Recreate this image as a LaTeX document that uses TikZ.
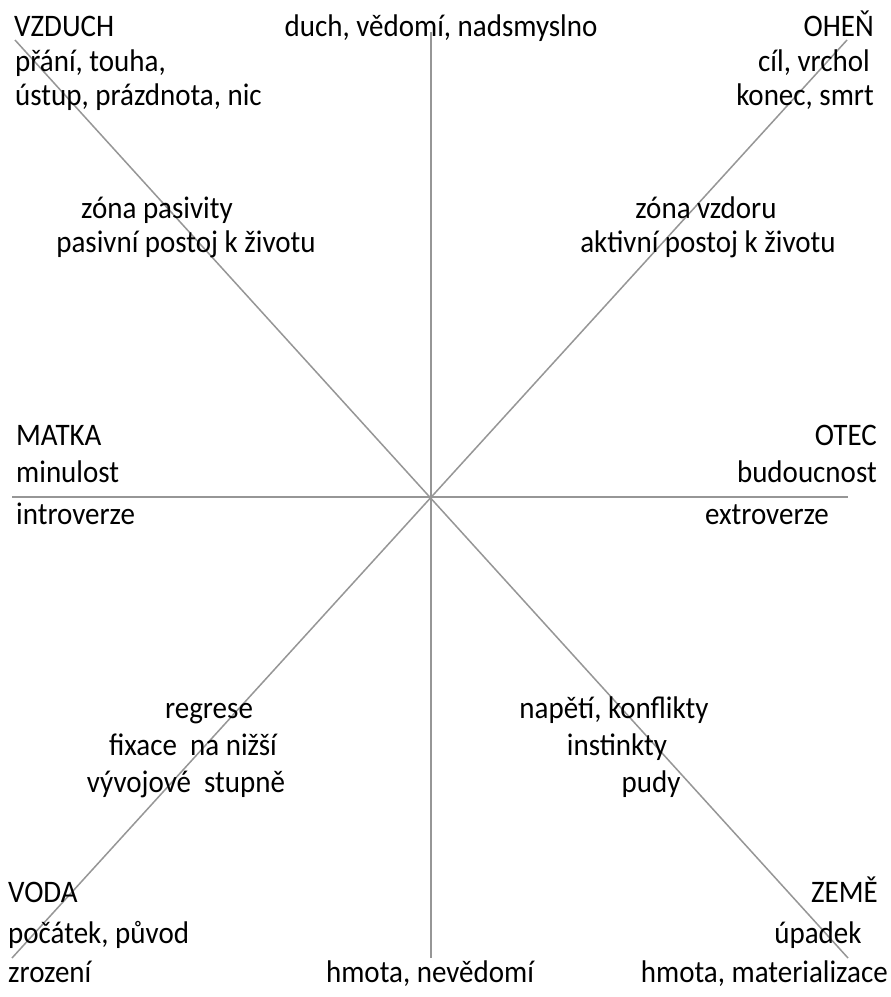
\documentclass[tikz,border=0pt]{standalone}
\usepackage{fontspec}
\setmainfont{Carlito}
\definecolor{axisgray}{RGB}{150,150,150}
\newcommand{\tallt}[1]{\scalebox{1}[1.08]{#1}}
\begin{document}
\begin{tikzpicture}[x=1pt,y=-1pt,
  axis/.style={draw=axisgray,line width=1.5pt},
  lbl/.style={inner sep=0pt,font=\fontsize{29}{35}\selectfont,text=black},
  lw/.style={lbl,anchor=base west},
  le/.style={lbl,anchor=base east},
  lc/.style={lbl,anchor=base}]
\useasboundingbox (0,0) rectangle (891,997);
\fill[white] (0,0) rectangle (891,997);
% axis end points
\coordinate (vt) at (431,32);
\coordinate (vb) at (431,958);
\coordinate (hl) at (12,497);
\coordinate (hr) at (848,497);
\coordinate (tl) at (15,40);
\coordinate (br) at (848,958);
\coordinate (tr) at (847,40);
\coordinate (bl) at (12,958);
\draw[axis] (vt) -- (vb);
\draw[axis] (hl) -- (hr);
\draw[axis] (tl) -- (br);
\draw[axis] (tr) -- (bl);
% top
\node[lw] (vzduch) at (14,36) {\tallt{VZDUCH}};
\node[lw] (prani) at (15,71) {\tallt{přání, touha,}};
\node[lw] (ustup) at (15,105) {\tallt{ústup, prázdnota, nic}};
\node[lc] (duch) at (441,36) {\tallt{duch, vědomí, nadsmyslno}};
\node[le] (ohen) at (874,36) {\tallt{OHEŇ}};
\node[le] (cil) at (870,71) {\tallt{cíl, vrchol}};
\node[le] (konec) at (874,105) {\tallt{konec, smrt}};
% zones
\node[lc] (zp) at (157,218) {\tallt{zóna pasivity}};
\node[lc] (pp) at (186,252) {\tallt{pasivní postoj k životu}};
\node[lc] (zv) at (706,218) {\tallt{zóna vzdoru}};
\node[lc] (ap) at (708,252) {\tallt{aktivní postoj k životu}};
% middle
\node[lw] (matka) at (16,445) {\tallt{MATKA}};
\node[lw] (minulost) at (16,482) {\tallt{minulost}};
\node[lw] (intro) at (16,524) {\tallt{introverze}};
\node[le] (otec) at (877,445) {\tallt{OTEC}};
\node[le] (budoucnost) at (877,482) {\tallt{budoucnost}};
\node[le] (extro) at (829,524) {\tallt{extroverze}};
% lower zones
\node[lc] (regrese) at (209,718) {\tallt{regrese}};
\node[lc] (fixace) at (193,755) {\tallt{fixace\ \ na nižší}};
\node[lc] (vyvoj) at (186,792) {\tallt{vývojové\ \ stupně}};
\node[lc] (napeti) at (614,718) {\tallt{napětí, konflikty}};
\node[lc] (instinkty) at (617,755) {\tallt{instinkty}};
\node[lc] (pudy) at (651,792) {\tallt{pudy}};
% bottom
\node[lw] (voda) at (8,902) {\tallt{VODA}};
\node[lw] (pocatek) at (8,943) {\tallt{počátek, původ}};
\node[lw] (zrozeni) at (8,982) {\tallt{zrození}};
\node[lc] (hmota1) at (430,982) {\tallt{hmota, nevědomí}};
\node[le] (zeme) at (878,902) {\tallt{ZEMĚ}};
\node[lc] (upadek) at (818,943) {\tallt{úpadek}};
\node[le] (hmota2) at (888,982) {\tallt{hmota, materializace}};
\end{tikzpicture}
\end{document}
